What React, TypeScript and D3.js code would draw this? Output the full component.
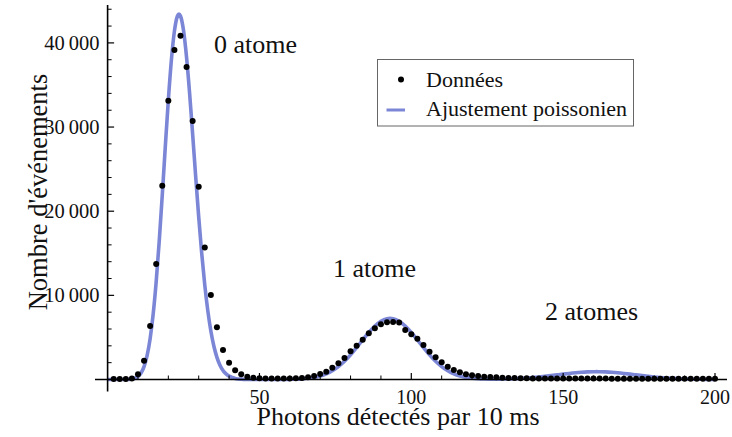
import React from "react";
import * as d3 from "d3";

// Data: photon counts per 10 ms bin (even bins 2..200)
const dataX: number[] = d3.range(2, 201, 2);
const dataValues: number[] = [
  60, 60, 70, 120, 620, 2230, 6360, 13720, 23020, 33120,
  39150, 40840, 37130, 30710, 22900, 15700, 10040, 6200, 3500, 2000,
  1090, 620, 330, 220, 160, 120, 110, 110, 120, 130,
  150, 180, 260, 416, 650, 930, 1400, 1920, 2550, 3350,
  4010, 4730, 5490, 6080, 6560, 6800, 6830, 6780, 5880, 5370,
  4850, 4100, 3300, 2640, 2040, 1520, 1130, 860, 620, 500,
  420, 330, 300, 260, 220, 190, 170, 150, 140, 130,
  120, 115, 110, 110, 110, 110, 105, 105, 105, 105,
  105, 105, 100, 100, 100, 100, 100, 100, 100, 100,
  100, 100, 100, 100, 100, 100, 100, 100, 100, 100,
];

// Poissonian fit curve
const fitX: number[] = [
  0, 2, 4, 6, 7, 8, 9, 10, 11, 12, 13, 14, 15, 16, 17, 18, 19, 20, 21, 22, 23, 23.5, 24,
  25, 26, 27, 28, 29, 30, 31, 32, 33, 34, 35, 36, 37, 38, 39, 40, 41, 42, 44, 46, 48, 50,
  54, 58, 60, 62, 64, 66, 68, 70, 72, 74, 76, 78, 80, 82, 84, 86, 88, 90, 92, 93, 94, 96,
  98, 100, 102, 104, 106, 108, 110, 112, 114, 116, 118, 120, 122, 124, 126, 128, 130, 132,
  134, 136, 138, 140, 142, 144, 146, 148, 150, 152, 154, 156, 158, 160, 161, 162, 164, 166,
  168, 170, 172, 174, 176, 178, 180, 182, 184, 186, 188, 190, 192, 194, 196, 198, 200,
];
const fitValues: number[] = [
  0, 0, 1, 6, 18, 55, 146, 351, 766, 1533, 2830, 4851, 7759, 11638, 16429, 21907, 27674, 33208, 37951, 41399, 43200, 43430, 43200,
  41472, 38284, 34029, 29169, 24140, 19310, 14952, 11215, 8156, 5759, 3948, 2631, 1706, 1078, 664, 398, 233, 133, 41, 11, 3, 1,
  0, 5, 20, 41, 79, 144, 252, 422, 678, 1043, 1534, 2166, 2930, 3795, 4704, 5583, 6354, 6926, 7230, 7270, 7230, 6926,
  6354, 5583, 4704, 3795, 2930, 2166, 1534, 1043, 678, 422, 252, 152, 87, 54, 42, 42, 52, 68,
  97, 133, 180, 236, 303, 379, 462, 550, 639, 723, 799, 860, 904, 927, 930, 927, 904, 860,
  799, 723, 639, 550, 462, 379, 303, 236, 180, 133, 97, 68, 47, 32, 21, 13, 8,
];

const xMajorTicks: number[] = [50, 100, 150, 200];
const xMinorTicks: number[] = [10, 20, 30, 40, 60, 70, 80, 90, 110, 120, 130, 140, 160, 170, 180, 190];
const yMajorTicks: number[] = [10000, 20000, 30000, 40000];
const yMinorTicks: number[] = [2000, 4000, 6000, 8000, 12000, 14000, 16000, 18000, 22000, 24000, 26000, 28000, 32000, 34000, 36000, 38000, 42000, 44000];

const annotations: { text: string; x: number; y: number }[] = [
  { text: "0 atome", x: 214, y: 52.5 },
  { text: "1 atome", x: 333, y: 277 },
  { text: "2 atomes", x: 545, y: 320 },
];

const legendLabels: string[] = ["Données", "Ajustement poissonien"];

const FONT = "'Liberation Serif', 'Times New Roman', serif";
const FIT_COLOR = "#7b86d6";

export default function App() {
  const W = 732;
  const H = 437;
  const x = d3.scaleLinear().domain([0, 200]).range([107.6, 715]);
  const y = d3.scaleLinear().domain([0, 40000]).range([379.5, 42.9]);
  const x0 = x(0);
  const y0 = y(0);

  const line = d3
    .line<number>()
    .x((_, i) => x(fitX[i]))
    .y((d) => y(d))
    .curve(d3.curveMonotoneX);

  const fmt = (v: number) => d3.format(",")(v).replace(",", "\u2009");

  return (
    <svg
      width={W}
      height={H}
      viewBox={`0 0 ${W} ${H}`}
      style={{ position: "absolute", left: 0, top: 0, background: "#fff" }}
      fontFamily={FONT}
    >
      <rect x={0} y={0} width={W} height={H} fill="#fff" />

      {/* fit curve */}
      <path d={line(fitValues) || ""} fill="none" stroke={FIT_COLOR} strokeWidth={3.6} strokeLinejoin="round" />

      {/* axes */}
      <line x1={95} x2={727} y1={y0} y2={y0} stroke="#000" strokeWidth={1.6} />
      <line x1={x0} x2={x0} y1={5} y2={391.5} stroke="#000" strokeWidth={1.6} />

      {/* x ticks */}
      {xMajorTicks.map((t) => (
        <g key={"xM" + t}>
          <line x1={x(t)} x2={x(t)} y1={y0} y2={y0 - 6.5} stroke="#000" strokeWidth={1.2} />
          <text x={x(t)} y={403.5} fontSize={20} textAnchor="middle" fill="#111">
            {t}
          </text>
        </g>
      ))}
      {xMinorTicks.map((t) => (
        <line key={"xm" + t} x1={x(t)} x2={x(t)} y1={y0} y2={y0 - 4} stroke="#000" strokeWidth={1} />
      ))}

      {/* y ticks */}
      {yMajorTicks.map((t) => (
        <g key={"yM" + t}>
          <line x1={x0} x2={x0 + 6.5} y1={y(t)} y2={y(t)} stroke="#000" strokeWidth={1.2} />
          <text x={99.5} y={y(t) + 6.8} fontSize={20.5} textAnchor="end" fill="#111">
            {fmt(t)}
          </text>
        </g>
      ))}
      {yMinorTicks.map((t) => (
        <line key={"ym" + t} x1={x0} x2={x0 + 4} y1={y(t)} y2={y(t)} stroke="#000" strokeWidth={1} />
      ))}

      {/* data points */}
      {dataValues.map((v, i) => (
        <circle key={"d" + i} cx={x(dataX[i])} cy={y(v)} r={3} fill="#000" />
      ))}

      {/* annotations */}
      {annotations.map((a) => (
        <text key={a.text} x={a.x} y={a.y} fontSize={26} fill="#111">
          {a.text}
        </text>
      ))}

      {/* axis labels */}
      <text x={398} y={425} fontSize={26} textAnchor="middle" fill="#111">
        Photons détectés par 10 ms
      </text>
      <text
        transform="translate(46.5,192) rotate(-90)"
        fontSize={26.5}
        textAnchor="middle"
        fill="#111"
      >
        Nombre d'événements
      </text>

      {/* legend */}
      <rect x={377.5} y={59.5} width={256} height={66.5} fill="#fff" stroke="#666" strokeWidth={1} />
      <circle cx={401} cy={79.5} r={3} fill="#000" />
      <line x1={386.5} x2={405} y1={110} y2={110} stroke={FIT_COLOR} strokeWidth={3} />
      <text x={426} y={86.7} fontSize={22} fill="#111">
        {legendLabels[0]}
      </text>
      <text x={426} y={115.5} fontSize={22} fill="#111">
        {legendLabels[1]}
      </text>
    </svg>
  );
}
